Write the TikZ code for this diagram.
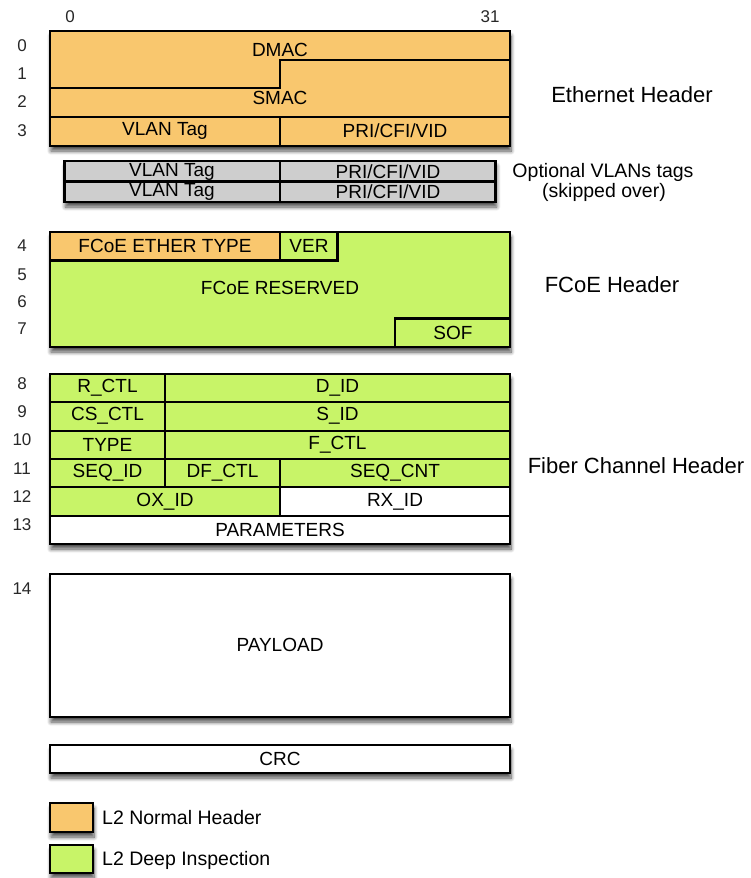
\documentclass[tikz,border=0pt]{standalone}
\usepackage{fontspec}
\setmainfont{Liberation Sans}
\usetikzlibrary{shadows.blur}
\definecolor{l2orange}{RGB}{249,199,110}
\definecolor{l2green}{RGB}{200,244,104}
\definecolor{vlangray}{RGB}{206,206,206}
\definecolor{numgray}{RGB}{40,40,40}
\begin{document}
\begin{tikzpicture}[
    x=1pt, y=-1pt,
    frame/.style={draw=black, line width=2.8pt},
    cell/.style={draw=black, line width=2.1pt},
    shadowed/.style={blur shadow={shadow xshift=1pt, shadow yshift=-5pt, shadow blur radius=4pt, shadow blur steps=8, shadow opacity=70}},
    field/.style={font=\fontsize{19}{21}\selectfont, inner sep=0pt},
    rownum/.style={text=numgray, font=\fontsize{17}{19}\selectfont, inner sep=0pt},
    caption/.style={font=\fontsize{22}{24}\selectfont, inner sep=0pt},
    subcaption/.style={font=\fontsize{19.5}{21}\selectfont, inner sep=0pt}
]
\useasboundingbox (0,0) rectangle (751,878);

% Bit ruler
\node[rownum] (bit0) at (70,17) {0};
\node[rownum] (bit31) at (490,17) {31};

% Row numbers
\foreach \n/\y in {0/46,1/74,2/102,3/131,4/246,5/275,6/302,7/329,8/384,9/412,10/440,11/469,12/497,13/525,14/589}
    \node[rownum] (row\n) at (22,\y) {\n};

% 1. ETHERNET HEADER
\fill[l2orange, shadowed] (50,31) rectangle (510,146);
\draw[cell] (510,60) -- (280,60) -- (280,88) -- (50,88);
\draw[cell] (50,117) -- (510,117);
\draw[cell] (280,117) -- (280,146);
\draw[frame] (50,31) rectangle (510,146);
\node[field] (dmac) at (280,50) {DMAC};
\node[field] (smac) at (280,98) {SMAC};
\node[field] (vlan) at (165,131) {VLAN Tag};
\node[field] (pri) at (395,131) {PRI/CFI/VID};
\node[caption] (ethlabel) at (632,95) {Ethernet Header};

% Optional VLAN tags
\fill[vlangray, shadowed] (64.4,161) rectangle (495.6,202);
\draw[cell] (64.4,181.5) -- (495.6,181.5);
\draw[cell] (280,161) -- (280,202);
\draw[frame] (64.4,161) rectangle (495.6,202);
\node[field] (vlanA) at (172,172) {VLAN Tag};
\node[field] (priA) at (388,172) {PRI/CFI/VID};
\node[field] (vlanB) at (172,192) {VLAN Tag};
\node[field] (priB) at (388,192) {PRI/CFI/VID};
\node[subcaption] (optlabel) at (603,172) {Optional VLANs tags};
\node[subcaption] (skiplabel) at (604,192) {(skipped over)};

% 2. FCOE HEADER
\fill[l2green, shadowed] (50,232) rectangle (510,347);
\fill[l2orange] (50,232) rectangle (280,260.5);
\draw[cell] (50,260.5) -- (337.5,260.5) -- (337.5,232);
\draw[cell] (280,232) -- (280,260.5);
\draw[cell] (395,347) -- (395,318.5) -- (510,318.5);
\draw[frame] (50,232) rectangle (510,347);
\node[field] (ethertype) at (165,246) {FCoE ETHER TYPE};
\node[field] (ver) at (309,246) {VER};
\node[field] (reserved) at (280,288) {FCoE RESERVED};
\node[field] (sof) at (453,333) {SOF};
\node[caption] (fcoelabel) at (612,285) {FCoE Header};

% 3. FIBER CHANNEL HEADER
\fill[white, shadowed] (50,374) rectangle (510,544);
\fill[l2green] (50,374) rectangle (510,487.3);
\fill[l2green] (50,487.3) rectangle (280,515.7);
\foreach \y in {402.3,430.7,459,487.3,515.7}
    \draw[cell] (50,\y) -- (510,\y);
\draw[cell] (165,374) -- (165,487.3);
\draw[cell] (280,459) -- (280,515.7);
\draw[frame] (50,374) rectangle (510,544);
\node[field] (rctl) at (107.5,388) {R\_CTL};
\node[field] (did) at (337.5,388) {D\_ID};
\node[field] (csctl) at (107.5,416) {CS\_CTL};
\node[field] (sid) at (337.5,416) {S\_ID};
\node[field] (type) at (107.5,444.5) {TYPE};
\node[field] (fctl) at (337.5,444.5) {F\_CTL};
\node[field] (seqid) at (107.5,473) {SEQ\_ID};
\node[field] (dfctl) at (222.5,473) {DF\_CTL};
\node[field] (seqcnt) at (395,473) {SEQ\_CNT};
\node[field] (oxid) at (165,501.5) {OX\_ID};
\node[field] (rxid) at (395,501.5) {RX\_ID};
\node[field] (params) at (280,530) {PARAMETERS};
\node[caption] (fclabel) at (636,466) {Fiber Channel Header};

% 4. PAYLOAD & CRC
\fill[white, shadowed] (50,574) rectangle (510,717);
\draw[frame] (50,574) rectangle (510,717);
\node[field] (payload) at (280,645) {PAYLOAD};
\fill[white, shadowed] (50,745) rectangle (510,773);
\draw[frame] (50,745) rectangle (510,773);
\node[field] (crc) at (280,759) {CRC};

% Legend
\fill[l2orange, shadowed] (50,803) rectangle (93,832);
\draw[cell] (50,803) rectangle (93,832);
\node[subcaption, anchor=west] (normal) at (102,818) {L2 Normal Header};
\fill[l2green, shadowed] (50,845) rectangle (93,873);
\draw[cell] (50,845) rectangle (93,873);
\node[subcaption, anchor=west] (deep) at (102,860) {L2 Deep Inspection};

\end{tikzpicture}
\end{document}
